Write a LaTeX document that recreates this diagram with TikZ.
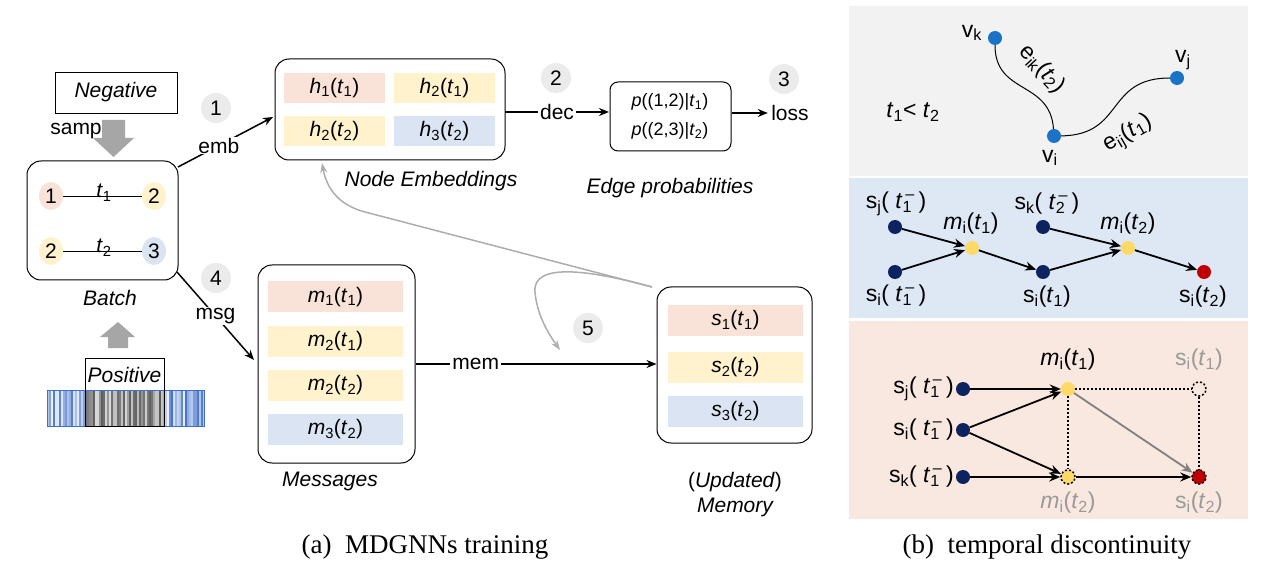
\documentclass[tikz,border=0pt]{standalone}
\usepackage{fontspec}
\setmainfont{Liberation Sans}
\newfontfamily\serifcap{Liberation Serif}
\usetikzlibrary{arrows.meta,shapes.geometric,calc}
\definecolor{cpink}{HTML}{F9E2D7}
\definecolor{cyel}{HTML}{FFF2CC}
\definecolor{cblue}{HTML}{DBE4F3}
\definecolor{arrgray}{HTML}{A6A6A6}
\definecolor{fbgray}{HTML}{ADADAD}
\definecolor{badgegray}{HTML}{EBEBEB}
\definecolor{barblue}{HTML}{3F6FC8}
\definecolor{pgray}{HTML}{F2F2F2}
\definecolor{pblue}{HTML}{DEE8F4}
\definecolor{ppeach}{HTML}{F9E8DF}
\definecolor{vblue}{HTML}{1B73C8}
\definecolor{navy}{HTML}{0D2360}
\definecolor{dyel}{HTML}{FFD966}
\definecolor{dred}{HTML}{C00000}
\definecolor{lblgray}{HTML}{9A9A9A}
\newcommand{\tsb}[1]{\textit{t}\textsubscript{#1}}
\newcommand{\tms}[1]{\textit{t}\rlap{\textsuperscript{\,–}}\textsubscript{#1}}
\tikzset{
  box/.style={draw, line width=0.8pt, inner sep=0pt},
  rbox/.style={draw, line width=1pt, rounded corners=14pt, inner sep=0pt},
  cell/.style={inner sep=0pt, minimum width=101pt, minimum height=30pt},
  mcell/.style={inner sep=0pt, minimum width=135pt, minimum height=31pt},
  ell/.style={ellipse, inner sep=0pt, minimum width=24pt, minimum height=28pt},
  badge/.style={circle, fill=badgegray, inner sep=0pt, minimum size=30pt},
  arr/.style={line width=1.5pt, -{Stealth[length=10pt,width=8pt]}},
  garr/.style={draw=fbgray, line width=1.5pt, -{Stealth[length=10pt,width=7pt]}},
  vdot/.style={circle, fill=vblue, inner sep=0pt, minimum size=14pt},
  ndot/.style={circle, fill=navy, inner sep=0pt, minimum size=14pt},
  ydot/.style={circle, fill=dyel, inner sep=0pt, minimum size=14pt},
  rdot/.style={circle, fill=dred, inner sep=0pt, minimum size=14pt},
  rarr/.style={line width=1.8pt, -{Stealth[length=11pt,width=9pt]}},
  dotl/.style={line width=1.8pt, dash pattern=on 2pt off 2pt},
  rl/.style={font=\fontsize{23}{27}\selectfont, inner sep=1pt},
  capt/.style={font=\serifcap\fontsize{27}{32}\selectfont}
}
\begin{document}
\begin{tikzpicture}[x=1pt,y=-1pt,font=\fontsize{21}{25}\selectfont]
\useasboundingbox (0,0) rectangle (1278,572);
\fill[white] (0,0) rectangle (1278,572);

% ---------- left panel ----------
\node[box, minimum width=122pt, minimum height=41pt] (neg) at (116,92.5) {\itshape Negative};
\node (samp) at (76,131) {samp};
\fill[arrgray] (102,120) -- (125,120) -- (125,138) -- (134,138) -- (113.5,157) -- (93,138) -- (102,138) -- cycle;

\node[rbox, minimum width=151pt, minimum height=119pt] (batch) at (102.5,220.5) {};
\node[ell, fill=cpink] (b1) at (51,196) {1};
\node[ell, fill=cyel] (b2) at (154,196) {2};
\node[ell, fill=cyel] (b3) at (51,251) {2};
\node[ell, fill=cblue] (b4) at (154,251) {3};
\draw[line width=0.8pt] (b1) -- (b2);
\draw[line width=0.8pt] (b3) -- (b4);
\node[anchor=base] (tt1) at (104,198) {\tsb{1}};
\node[anchor=base] (tt2) at (104,253) {\tsb{2}};
\node (batchlbl) at (110,298) {\itshape Batch};
\fill[arrgray] (118,322) -- (135,337) -- (128,337) -- (128,348) -- (108,348) -- (108,337) -- (100,337) -- cycle;

% barcode
\pgfmathsetseed{12}
\foreach \i in {0,...,78} {
  \pgfmathsetmacro{\xx}{47+\i*2}
  \pgfmathtruncatemacro{\cc}{10+90*rnd}
  \pgfmathtruncatemacro{\gg}{15+50*rnd}
  \pgfmathtruncatemacro{\inb}{((\xx>84)&&(\xx<164))?1:0}
  \ifnum\inb=1
    \fill[black!\gg!white] (\xx,390) rectangle ++(1.6,36);
  \else
    \fill[barblue!\cc!white] (\xx,390) rectangle ++(1.5,36);
  \fi
}
\draw[barblue, line width=0.6pt] (47,390) rectangle (204,426);
\node[box, fill=none, line width=1pt, minimum width=79pt, minimum height=68pt, anchor=north west] (pos) at (85,358) {};
\node (poslbl) at (124.5,375) {\itshape Positive};

% badges and connectors from batch
\node[badge] (n1) at (216,108) {1};
\node[badge] (n4) at (216,278) {4};
\coordinate (embS) at (178,167);
\coordinate (embE) at (273,117);
\draw[arr] (embS) -- node[pos=0.43, fill=white, inner sep=1pt] (emb) {emb} (embE);
\coordinate (msgS) at (177,272);
\coordinate (msgE) at (254,360);
\draw[arr] (msgS) -- node[pos=0.5, fill=white, inner sep=1pt] (msg) {msg} (msgE);

% node embeddings
\node[rbox, minimum width=230pt, minimum height=101pt] (ne) at (390,109.5) {};
\node[cell, fill=cpink] (h11) at (334.5,88) {\textit{h}\textsubscript{1}(\tsb{1})};
\node[cell, fill=cyel] (h21) at (444.5,88) {\textit{h}\textsubscript{2}(\tsb{1})};
\node[cell, fill=cyel] (h22) at (334.5,131.5) {\textit{h}\textsubscript{2}(\tsb{2})};
\node[cell, fill=cblue] (h32) at (444.5,131.5) {\textit{h}\textsubscript{3}(\tsb{2})};
\node (nelbl) at (431,181) {\itshape Node Embeddings};

% decoder
\node[badge] (n2) at (556,78) {2};
\node[draw, line width=1pt, rounded corners=8pt, minimum width=121pt, minimum height=69pt, inner sep=0pt] (ep) at (670.5,116.5) {};
\node[font=\fontsize{18}{21}\selectfont] (p1) at (670,102) {\textit{p}((1,2)|\tsb{1})};
\node[font=\fontsize{18}{21}\selectfont] (p2) at (670,131) {\textit{p}((2,3)|\tsb{2})};
\coordinate (decS) at (505,112);
\coordinate (decE) at (609,112);
\draw[arr] (decS) -- node[pos=0.5, fill=white, inner sep=2pt] (dec) {dec} (decE);
\node (eplbl) at (670,188) {\itshape Edge probabilities};
\node[badge] (n3) at (784,79) {3};
\node (loss) at (790,113) {loss};
\draw[arr] (ep.east |- loss) -- (loss.west);

% messages
\node[rbox, minimum width=157pt, minimum height=198pt] (msgs) at (336.5,364) {};
\node[mcell, fill=cpink] (m11) at (335.5,297) {\textit{m}\textsubscript{1}(\tsb{1})};
\node[mcell, fill=cyel] (m21) at (335.5,341.5) {\textit{m}\textsubscript{2}(\tsb{1})};
\node[mcell, fill=cyel] (m22) at (335.5,385.5) {\textit{m}\textsubscript{2}(\tsb{2})};
\node[mcell, fill=cblue] (m32) at (335.5,429.5) {\textit{m}\textsubscript{3}(\tsb{2})};
\node (msglbl) at (330,481) {\itshape Messages};

% memory
\node[rbox, minimum width=155pt, minimum height=156pt] (mem) at (734.5,365) {};
\node[mcell, fill=cpink] (s11) at (735.5,320.5) {\textit{s}\textsubscript{1}(\tsb{1})};
\node[mcell, fill=cyel] (s22) at (735.5,367.5) {\textit{s}\textsubscript{2}(\tsb{2})};
\node[mcell, fill=cblue] (s32) at (735.5,411.5) {\textit{s}\textsubscript{3}(\tsb{2})};
\node (memlbl1) at (735,482) {(\textit{Updated})};
\node (memlbl2) at (735,507) {\itshape Memory};
\draw[arr] (msgs.east |- 0,364) -- node[pos=0.25, fill=white, inner sep=2pt] (memtxt) {mem} (mem.west |- 0,364);
\node[badge] (n5) at (588,328) {5};

% gray feedback arrows
\coordinate (fbS) at (652,287);
\coordinate (fbM) at (365,212);
\coordinate (fbE) at (322,163);
\coordinate (fbE2) at (560,350);
\draw[garr] (fbS) -- (fbM) .. controls (340,205.4) and (327,190) .. (fbE);
\draw[garr] (fbS) .. controls (590,270) and (532,262) .. (535,292) .. controls (537,315) and (548,333) .. (fbE2);

% ---------- right panel ----------
\fill[pgray] (849,6) rectangle (1248,176);
\fill[pblue] (849,178) rectangle (1248,318);
\fill[ppeach] (849,321) rectangle (1248,519);

% panel 1
\node[vdot] (vk) at (995,38) {};
\node[vdot] (vj) at (1177,78) {};
\node[vdot] (vi) at (1054,136) {};
\node[rl] (vkl) at (972,33) {v\textsubscript{k}};
\node[rl] (vjl) at (1183,60) {v\textsubscript{j}};
\node[rl] (vil) at (1050,158) {v\textsubscript{i}};
\draw[line width=1pt] (vk) .. controls (995,95) and (1050,80) .. (vi);
\draw[line width=1pt] (vi) .. controls (1125,135) and (1105,78) .. (vj);
\node[rl, rotate=-47] (eik) at (1042,69) {e\textsubscript{ik}(\tsb{2})};
\node[rl, rotate=30] (eij) at (1128,134) {e\textsubscript{ij}(\tsb{1})};
\node[rl] (tlt) at (913,112) {\tsb{1}< \tsb{2}};

% panel 2
\node[ndot] (q_sj) at (895,227) {};
\node[ndot] (q_si) at (895,272) {};
\node[ydot] (q_m1) at (972,248) {};
\node[ndot] (q_sk) at (1043,227) {};
\node[ndot] (q_s1) at (1043,272) {};
\node[ydot] (q_m2) at (1128,248) {};
\node[rdot] (q_s2) at (1204,272) {};
\node[rl] (q_sjl) at (896,204) {s\textsubscript{j}( \tms{1} )};
\node[rl] (q_sil) at (896,296) {s\textsubscript{i}( \tms{1} )};
\node[rl] (q_m1l) at (971,224) {\textit{m}\textsubscript{i}(\tsb{1})};
\node[rl] (q_skl) at (1047,204) {s\textsubscript{k}( \tms{2} )};
\node[rl] (q_s1l) at (1047,297) {s\textsubscript{i}(\tsb{1})};
\node[rl] (q_m2l) at (1128,224) {\textit{m}\textsubscript{i}(\tsb{2})};
\node[rl] (q_s2l) at (1203,297) {s\textsubscript{i}(\tsb{2})};
\draw[rarr] (q_sj) -- (q_m1);
\draw[rarr] (q_si) -- (q_m1);
\draw[rarr] (q_m1) -- (q_s1);
\draw[rarr] (q_sk) -- (q_m2);
\draw[rarr] (q_s1) -- (q_m2);
\draw[rarr] (q_m2) -- (q_s2);

% panel 3
\node[ndot] (r_sj) at (963,389) {};
\node[ndot] (r_si) at (963,430) {};
\node[ndot] (r_sk) at (963,477) {};
\node[ydot] (r_m1) at (1068,389) {};
\node[circle, draw, dotl, line width=1.5pt, inner sep=0pt, minimum size=14pt] (r_s1) at (1199,389) {};
\node[ydot, draw, dotl, line width=1.5pt] (r_m2) at (1068,477) {};
\node[rdot, draw, dotl, line width=1.5pt] (r_s2) at (1199,477) {};
\node[rl, anchor=east] (r_sjl) at (955,389) {s\textsubscript{j}( \tms{1} )};
\node[rl, anchor=east] (r_sil) at (955,430) {s\textsubscript{i}( \tms{1} )};
\node[rl, anchor=east] (r_skl) at (955,477) {s\textsubscript{k}( \tms{1} )};
\node[rl] (r_m1l) at (1068,360) {\textit{m}\textsubscript{i}(\tsb{1})};
\node[rl, text=lblgray] (r_s1l) at (1199,360) {s\textsubscript{i}(\tsb{1})};
\node[rl, text=lblgray] (r_m2l) at (1068,503) {\textit{m}\textsubscript{i}(\tsb{2})};
\node[rl, text=lblgray] (r_s2l) at (1199,503) {s\textsubscript{i}(\tsb{2})};
\draw[dotl] (r_m1) -- (r_s1);
\draw[dotl] (r_m1) -- (r_m2);
\draw[dotl] (r_s1) -- (r_s2);
\draw[rarr] (r_sj) -- (r_m1);
\draw[rarr] (r_si) -- (r_m1);
\draw[rarr] (r_si) -- (r_m2);
\draw[rarr] (r_sk) -- (r_m2);
\draw[rarr] (r_m2) -- (r_s2);
\draw[rarr, draw=gray, -{Stealth[length=11pt,width=9pt,fill=gray]}] (r_m1) -- (r_s2);

% captions
\node[capt] (capa) at (425,547) {(a)\ \ MDGNNs training};
\node[capt] (capb) at (1047,547) {(b)\ \ temporal discontinuity};
\end{tikzpicture}
\end{document}
